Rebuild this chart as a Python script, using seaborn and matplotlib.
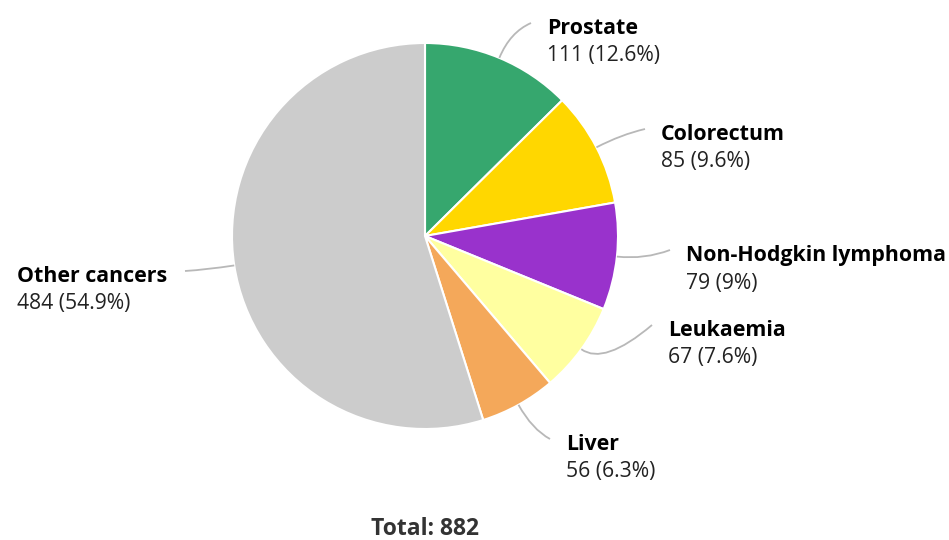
import numpy as np
import matplotlib.pyplot as plt
from matplotlib.path import Path
from matplotlib.patches import PathPatch
import seaborn as sns

sns.set_theme(style="white")
plt.rcParams['font.family'] = ['Open Sans', 'DejaVu Sans']

categories = ['Prostate', 'Colorectum', 'Non-Hodgkin lymphoma', 'Leukaemia', 'Liver', 'Other cancers']
counts = [111, 85, 79, 67, 56, 484]
percent_labels = ['12.6%', '9.6%', '9%', '7.6%', '6.3%', '54.9%']
colors = ['#36a76e', '#ffd700', '#9932cc', '#ffffa0', '#f4a85a', '#cccccc']

# label anchor (left x, name y) in pixel coords from top-left
label_pos = [(547, 29), (661, 135), (686, 256), (668, 331), (566, 445), (17, 277)]

W, H = 949, 540
cx, cy, r = 425, 236, 193

fig = plt.figure(figsize=(W / 100, H / 100), dpi=100)
ax = fig.add_axes([0, 0, 1, 1])

wedges, _ = ax.pie(counts, colors=colors, startangle=90, counterclock=False,
                   center=(cx, H - cy), radius=r, frame=True,
                   wedgeprops=dict(edgecolor='white', linewidth=1.5))
ax.set_xlim(0, W)
ax.set_ylim(0, H)
ax.axis('off')

total = sum(counts)
for w, name, n, pct, (lx, ly) in zip(wedges, categories, counts, percent_labels, label_pos):
    # connector: from slice edge, bending out, to the label
    mid = np.deg2rad((w.theta1 + w.theta2) / 2)
    dx, dy = np.cos(mid), np.sin(mid)
    sx, sy = cx + r * dx, (H - cy) + r * dy
    ex = sx + 28 * dx
    ey = sy + 28 * dy
    y_end = H - ly + 6
    if dx >= 0:
        tx = lx - 16
    else:
        tx = lx + 168
    verts = [(sx, sy), (ex, ey), (tx, y_end)]
    path = Path(verts, [Path.MOVETO, Path.CURVE3, Path.CURVE3])
    ax.add_patch(PathPatch(path, fill=False, edgecolor='#b8b8b8', linewidth=1.3))
    ax.text(lx, H - ly, name, fontsize=15.4, fontweight='bold', color='black',
            ha='left', va='center')
    ax.text(lx, H - ly - 27, f'{n} ({pct})', fontsize=15.2, color='#222222',
            ha='left', va='center')

ax.text(cx, H - 529, f'Total: {total}', fontsize=16.5, fontweight='bold',
        color='#333333', ha='center', va='center')

fig.savefig('out.png', dpi=100)
